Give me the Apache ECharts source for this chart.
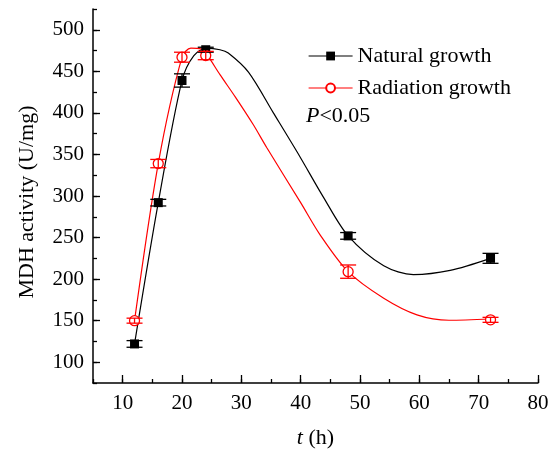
<!DOCTYPE html>
<html>
<head>
<meta charset="utf-8">
<script src="https://cdn.jsdelivr.net/npm/echarts@6/dist/echarts.min.js"></script>
<style>
  html, body { margin: 0; padding: 0; background: #fff; }
  #main { width: 559px; height: 454px; }
</style>
</head>
<body>
<div id="main"></div>
<script>
// measured points (t in hours)
var hours = [12, 16, 20, 24, 48, 72];
var natural = [122, 292, 439, 476, 252, 225];
var naturalErr = [4, 4, 8, 3, 4, 6];
var radiation = [150, 339, 467, 469, 209, 151];
var radiationErr = [3, 5, 6, 5, 8, 3];

// fitted curves
var naturalFitX = [12, 16, 20, 22, 24.2, 26.4, 27.8, 31.2, 35.4, 39.9, 43.8, 48, 54, 59, 65.2, 72];
var naturalFitY = [122, 292, 439, 469, 478, 476, 472, 449, 400, 347, 299, 252, 216, 205.5, 210.5, 225];
var radiationFitX = [12, 16, 20, 21.5, 23.2, 24.2, 26.4, 29, 32, 34.3, 40, 43.3, 48, 54, 59.6, 65, 72];
var radiationFitY = [150, 339, 467, 478, 477, 470, 446, 419, 386, 358, 292, 253, 209, 177, 157, 150.5, 152];

var xMajor = [10, 20, 30, 40, 50, 60, 70, 80];
var yMajor = [100, 150, 200, 250, 300, 350, 400, 450, 500];

var font = "Liberation Serif";

function pairs(xs, ys) {
  return xs.map(function (x, i) { return [x, ys[i]]; });
}
function errData(vals, errs) {
  return hours.map(function (h, i) { return [h, vals[i], errs[i]]; });
}
function errorBars(color) {
  return function (params, api) {
    var x = api.value(0), y = api.value(1), e = api.value(2);
    var top = api.coord([x, y + e]);
    var bot = api.coord([x, y - e]);
    var w = 8;
    var st = { stroke: color, lineWidth: 1.3 };
    return {
      type: 'group',
      children: [
        { type: 'line', shape: { x1: top[0], y1: top[1], x2: bot[0], y2: bot[1] }, style: st },
        { type: 'line', shape: { x1: top[0] - w, y1: top[1], x2: top[0] + w, y2: top[1] }, style: st },
        { type: 'line', shape: { x1: bot[0] - w, y1: bot[1], x2: bot[0] + w, y2: bot[1] }, style: st }
      ]
    };
  };
}

var chart = echarts.init(document.getElementById('main'), null, { renderer: 'canvas' });

var option = {
  animation: false,
  grid: { left: 93, right: 21, top: 9, bottom: 64 },
  legend: {
    left: 303,
    top: 40,
    orient: 'vertical',
    itemWidth: 44,
    itemHeight: 11,
    itemGap: 10,
    textStyle: { fontFamily: font, fontSize: 22, color: '#000' },
    data: [
      { name: 'Natural growth', lineStyle: { opacity: 1, width: 1.2, color: '#000' } },
      { name: 'Radiation growth', lineStyle: { opacity: 1, width: 1.2, color: '#ff0000' } }
    ]
  },
  graphic: [{
    type: 'text',
    left: 306,
    top: 105,
    style: {
      text: '{i|P}<0.05',
      font: '22px "Liberation Serif"',
      fill: '#000',
      rich: { i: { fontStyle: 'italic', fontFamily: font, fontSize: 22 } }
    }
  }],
  xAxis: [{
    type: 'value',
    min: 5,
    max: 80,
    interval: 5,
    name: '{i|t} (h)',
    nameLocation: 'middle',
    nameGap: 44,
    nameTextStyle: {
      fontFamily: font, fontSize: 22, color: '#000',
      rich: { i: { fontStyle: 'italic', fontFamily: font, fontSize: 22 } }
    },
    axisLine: { lineStyle: { color: '#000', width: 1.5 } },
    axisTick: { inside: true, length: 4, lineStyle: { color: '#000', width: 1.3 } },
    axisLabel: {
      fontFamily: font, fontSize: 21, color: '#000', margin: 10,
      formatter: function (v) { return v % 10 === 0 ? String(v) : ''; }
    },
    splitLine: { show: false }
  }, {
    type: 'value',
    min: 5,
    max: 80,
    position: 'bottom',
    axisLine: { show: false },
    axisTick: { inside: true, length: 8, customValues: xMajor, lineStyle: { color: '#000', width: 1.3 } },
    axisLabel: { show: false },
    splitLine: { show: false }
  }],
  yAxis: [{
    type: 'value',
    min: 75,
    max: 525,
    interval: 25,
    name: 'MDH activity (U/mg)',
    nameLocation: 'middle',
    nameGap: 55,
    nameTextStyle: { fontFamily: font, fontSize: 22, color: '#000', padding: [0, 12, 0, 0] },
    axisLine: { show: true, lineStyle: { color: '#000', width: 1.5 } },
    axisTick: { show: true, inside: true, length: 4, lineStyle: { color: '#000', width: 1.3 } },
    axisLabel: {
      fontFamily: font, fontSize: 21, color: '#000', margin: 9,
      formatter: function (v) { return v % 50 === 0 ? String(v) : ''; }
    },
    splitLine: { show: false }
  }, {
    type: 'value',
    min: 75,
    max: 525,
    position: 'left',
    axisLine: { show: false },
    axisTick: { show: true, inside: true, length: 7, customValues: yMajor, lineStyle: { color: '#000', width: 1.3 } },
    axisLabel: { show: false },
    splitLine: { show: false }
  }],
  series: [
    {
      name: 'natural fit',
      type: 'line',
      data: pairs(naturalFitX, naturalFitY),
      smooth: 0.3,
      showSymbol: false,
      lineStyle: { color: '#000', width: 1.2 },
      z: 2
    },
    {
      name: 'radiation fit',
      type: 'line',
      data: pairs(radiationFitX, radiationFitY),
      smooth: 0.3,
      showSymbol: false,
      lineStyle: { color: '#ff0000', width: 1.2 },
      z: 2
    },
    {
      name: 'Natural growth',
      type: 'line',
      data: pairs(hours, natural),
      symbol: 'rect',
      symbolSize: 9,
      itemStyle: { color: '#000' },
      lineStyle: { opacity: 0, color: '#000' },
      z: 4
    },
    {
      name: 'Radiation growth',
      type: 'line',
      data: pairs(hours, radiation),
      symbol: 'circle',
      symbolSize: 10,
      itemStyle: { color: '#fff', borderColor: '#ff0000', borderWidth: 1.3 },
      lineStyle: { opacity: 0, color: '#ff0000' },
      z: 4
    },
    {
      name: 'natural err',
      type: 'custom',
      renderItem: errorBars('#000'),
      data: errData(natural, naturalErr),
      z: 6
    },
    {
      name: 'radiation err',
      type: 'custom',
      renderItem: errorBars('#ff0000'),
      data: errData(radiation, radiationErr),
      z: 6
    }
  ]
};

chart.setOption(option);
</script>
</body>
</html>
